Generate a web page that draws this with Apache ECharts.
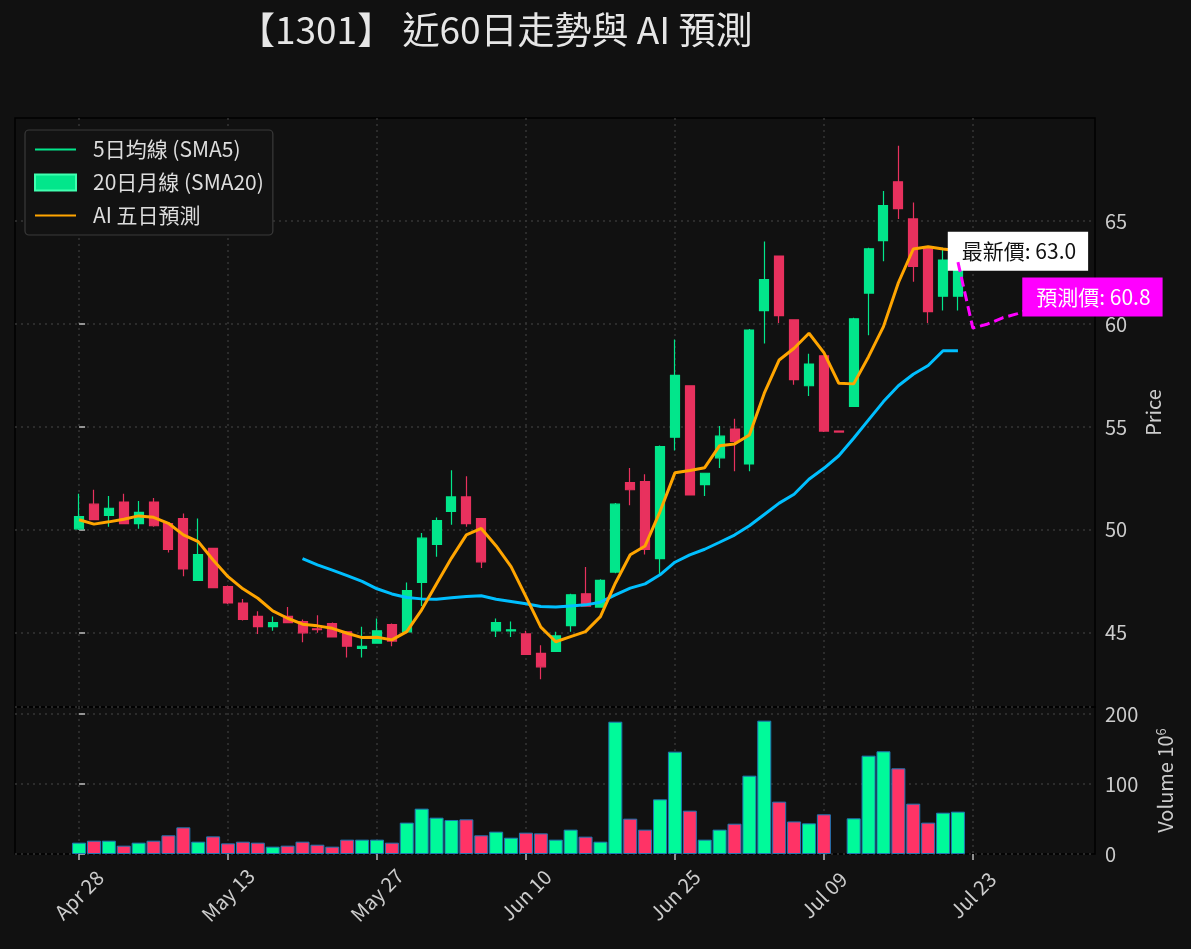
<!DOCTYPE html>
<html>
<head>
<meta charset="utf-8">
<title>【1301】 近60日走勢與 AI 預測</title>
<script src="https://cdn.jsdelivr.net/npm/echarts@6/dist/echarts.min.js"></script>
<style>
  html, body { margin: 0; padding: 0; background: #111111; }
  #main { width: 1191px; height: 949px; }
</style>
</head>
<body>
<div id="main"></div>
<script>
// x 軸刻度 (以交易日序號為座標)
var tickIdx = [0, 10, 20, 30, 40, 50, 60];
var tickLabels = ['Apr 28', 'May 13', 'May 27', 'Jun 10', 'Jun 25', 'Jul 09', 'Jul 23'];
var priceTicks = [45, 50, 55, 60, 65];

// K線 (60 個交易日)
var openP = [50.05, 51.25, 50.7, 51.35, 50.3, 51.35, 50.3, 50.55, 47.55, 49.1,
             47.25, 46.45, 45.8, 45.3, 45.8, 45.55, 45.2, 45.45, 45.05, 44.25,
             44.5, 45.4, 45.05, 47.45, 49.3, 50.9, 51.6, 50.55, 45.1, 45.1,
             44.95, 44.0, 44.1, 45.35, 46.9, 46.25, 47.95, 52.3, 52.35, 48.6,
             54.5, 57.0, 52.2, 53.5, 54.9, 53.2, 60.65, 63.3, 60.2, 57.0,
             58.45, 54.8, 56.0, 61.5, 64.05, 66.9, 65.1, 63.75, 61.35, 61.35];
var closeP = [50.65, 50.5, 51.05, 50.3, 50.85, 50.2, 49.05, 48.1, 48.8, 47.2,
              46.45, 45.65, 45.3, 45.5, 45.5, 45.0, 45.15, 44.8, 44.35, 44.35,
              45.1, 44.6, 47.05, 49.6, 50.45, 51.6, 50.3, 48.45, 45.5, 45.15,
              43.95, 43.35, 44.85, 46.85, 46.3, 47.55, 51.25, 51.95, 49.05, 54.05,
              57.5, 51.7, 52.75, 54.55, 54.3, 59.7, 62.15, 60.4, 57.3, 58.05,
              54.8, 54.75, 60.25, 63.65, 65.75, 65.6, 62.8, 60.6, 63.1, 63.0];
var lowP = [50.0, 50.5, 50.15, 50.3, 50.05, 50.15, 48.9, 47.75, 47.55, 47.2,
            46.4, 45.6, 44.95, 45.1, 45.5, 44.55, 45.0, 44.8, 43.8, 43.8,
            44.5, 44.35, 45.0, 46.3, 48.7, 50.25, 50.15, 48.15, 44.8, 44.8,
            43.95, 42.75, 44.1, 45.05, 46.3, 46.25, 47.9, 51.2, 48.8, 47.8,
            53.85, 51.7, 51.65, 53.0, 52.85, 52.85, 59.05, 60.05, 57.05, 56.5,
            54.75, 54.75, 56.0, 59.45, 63.05, 65.1, 62.05, 60.05, 60.65, 60.65];
var highP = [51.75, 51.95, 51.65, 51.75, 51.4, 51.55, 50.3, 50.8, 50.55, 49.1,
             47.3, 46.65, 46.05, 45.8, 46.25, 45.65, 45.85, 45.5, 45.05, 45.3,
             45.7, 45.45, 47.45, 49.85, 50.6, 52.9, 52.6, 50.55, 45.7, 45.55,
             45.1, 44.4, 45.05, 46.9, 48.2, 47.6, 51.3, 53.0, 52.7, 54.1,
             59.25, 57.0, 52.75, 55.05, 55.4, 59.75, 64.0, 63.3, 60.2, 58.55,
             58.45, 54.8, 60.3, 63.7, 66.45, 68.65, 65.9, 63.75, 63.7, 63.4];

// 成交量 (百萬股)
var volume = [16.2, 19, 19, 11.9, 16.2, 19, 26.7, 38.1, 17.6, 25.2,
              15.2, 17.6, 16.2, 10.5, 11.9, 17.6, 13.3, 10.5, 20.5, 20.5,
              20.5, 16.2, 44.8, 64.8, 51.9, 48.6, 49.5, 26.7, 31.9, 23.3,
              30.5, 29.5, 20.5, 34.8, 24.8, 17.6, 189, 50.5, 34.8, 78.1,
              146.2, 61.9, 20.5, 34.8, 43.3, 111.9, 190.5, 74.8, 46.5, 43.8,
              56.7, 0, 51, 140.5, 146.7, 122.4, 71.9, 44.8, 59, 60.5];

// 均線
var sma5 = [50.49, 50.28, 50.39, 50.52, 50.68, 50.61, 50.32, 49.76, 49.43, 48.54,
            47.73, 47.14, 46.68, 46.07, 45.71, 45.42, 45.34, 45.22, 44.98, 44.77,
            44.79, 44.66, 45.06, 46.12, 47.38, 48.63, 49.76, 50.07, 49.22, 48.22,
            46.76, 45.28, 44.57, 44.82, 45.06, 45.79, 47.41, 48.79, 49.22, 50.89,
            52.77, 52.88, 53.02, 54.09, 54.17, 54.61, 56.64, 58.25, 58.82, 59.55,
            58.61, 57.12, 57.09, 58.41, 59.87, 62.0, 63.64, 63.75, 63.64, 63.55];
var sma20Start = 15;
var sma20 = [48.6, 48.3, 48.05, 47.78, 47.5,
             47.14, 46.89, 46.72, 46.65, 46.63, 46.70, 46.76, 46.8, 46.63, 46.52,
             46.41, 46.28, 46.25, 46.31, 46.36, 46.49, 46.84, 47.17, 47.38, 47.82,
             48.43, 48.79, 49.06, 49.4, 49.75, 50.2, 50.75, 51.3, 51.73, 52.46,
             52.99, 53.6, 54.45, 55.34, 56.23, 57.0, 57.56, 57.98, 58.7, 58.7];

// AI 五日預測
var forecastIdx = [59, 60, 61, 62, 63, 64];
var forecastVal = [63.0, 59.8, 60.0, 60.3, 60.5, 60.8];

var UP = '#02e68b', DOWN = '#e8315e';
var VOL_UP = '#00fa9a', VOL_DOWN = '#ff3366';
var FONT = "'Noto Sans CJK TC', 'Noto Sans', sans-serif";

var candles = openP.map(function (o, i) {
    return [i, o, closeP[i], lowP[i], highP[i]];
});
var volData = [];
volume.forEach(function (v, i) {
    if (v > 0) {
        volData.push({
            value: [i, v],
            itemStyle: { color: closeP[i] >= openP[i] ? VOL_UP : VOL_DOWN }
        });
    }
});
var sma5Data = sma5.map(function (v, i) { return [i, v]; });
var sma20Data = sma20.map(function (v, i) { return [i + sma20Start, v]; });
var forecastData = forecastIdx.map(function (x, i) { return [x, forecastVal[i]]; });
var lastIdx = closeP.length - 1;

var gridLine = { show: true, lineStyle: { color: '#363636', width: 1.5, type: [2, 4] } };
var tickStyle = { color: '#bbbbbb', width: 1.5 };

var myChart = echarts.init(document.getElementById('main'));

var option = {
    backgroundColor: '#111111',
    animation: false,
    textStyle: { fontFamily: FONT },
    title: {
        text: '【1301】 近60日走勢與 AI 預測',
        left: 233,
        top: 6,
        textStyle: { color: '#e6e6e6', fontSize: 37, fontWeight: 'normal', fontFamily: FONT }
    },
    legend: {
        data: [
            { name: '5日均線 (SMA5)', itemStyle: { opacity: 0 } },
            { name: '20日月線 (SMA20)', icon: 'rect' },
            { name: 'AI 五日預測', itemStyle: { opacity: 0 } }
        ],
        orient: 'vertical',
        left: 25,
        top: 130,
        itemWidth: 41,
        itemHeight: 16,
        itemGap: 12,
        padding: [9, 9, 9, 9],
        backgroundColor: '#121212',
        borderColor: '#3a3a3a',
        borderWidth: 1.2,
        borderRadius: 4,
        textStyle: { color: '#dddddd', fontSize: 21, lineHeight: 21, padding: [0, 0, 0, 12], fontFamily: FONT }
    },
    grid: [
        { left: 15, top: 118, width: 1080, height: 589, show: true, borderColor: '#000', borderWidth: 1.5, backgroundColor: 'transparent' },
        { left: 15, top: 707, width: 1080, height: 147, show: true, borderColor: '#000', borderWidth: 1.5, backgroundColor: 'transparent' }
    ],
    xAxis: [
        {
            type: 'value', gridIndex: 0, min: -4.3, max: 68.2,
            axisLine: { show: false },
            axisTick: { show: false, customValues: tickIdx },
            axisLabel: { show: false, customValues: tickIdx },
            splitLine: gridLine
        },
        {
            type: 'value', gridIndex: 1, min: -4.3, max: 68.2,
            axisLine: { show: false },
            axisTick: { show: true, customValues: tickIdx, length: 6, lineStyle: tickStyle },
            axisLabel: {
                customValues: tickIdx,
                formatter: function (v) { return tickLabels[tickIdx.indexOf(v)]; },
                rotate: 45, align: 'center', verticalAlign: 'middle',
                color: '#cccccc', fontSize: 20, margin: 41
            },
            splitLine: gridLine
        }
    ],
    yAxis: [
        {
            type: 'value', gridIndex: 0, position: 'right', min: 41.4, max: 70,
            axisLine: { show: false },
            axisTick: { show: true, customValues: priceTicks, length: 6, lineStyle: tickStyle },
            axisLabel: { customValues: priceTicks, color: '#cccccc', fontSize: 20, margin: 10 },
            splitLine: gridLine,
            name: 'Price', nameLocation: 'middle', nameRotate: 90, nameGap: 48,
            nameTextStyle: { color: '#cccccc', fontSize: 20 }
        },
        {
            type: 'value', gridIndex: 1, position: 'right', min: 0, max: 210, interval: 100,
            axisLine: { show: false },
            axisTick: { show: true, length: 6, lineStyle: tickStyle },
            axisLabel: { color: '#cccccc', fontSize: 20, margin: 10 },
            splitLine: gridLine,
            name: 'Volume 10{s|6}', nameLocation: 'middle', nameRotate: 90, nameGap: 60,
            nameTextStyle: {
                color: '#cccccc', fontSize: 20,
                rich: { s: { fontSize: 13, color: '#cccccc', verticalAlign: 'top', padding: [0, 0, 8, 0] } }
            }
        }
    ],
    series: [
        {
            name: 'K線', type: 'candlestick', xAxisIndex: 0, yAxisIndex: 0,
            data: candles,
            encode: { x: 0, y: [1, 2, 3, 4] },
            barWidth: 9.5,
            itemStyle: { color: UP, color0: DOWN, borderColor: UP, borderColor0: DOWN, borderWidth: 1.2 },
            z: 2
        },
        {
            name: '20日線', type: 'line', xAxisIndex: 0, yAxisIndex: 0,
            data: sma20Data, symbol: 'none',
            lineStyle: { color: '#00bfff', width: 3 },
            z: 3
        },
        {
            name: 'AI 五日預測', type: 'line', xAxisIndex: 0, yAxisIndex: 0,
            data: sma5Data, symbol: 'none',
            lineStyle: { color: '#ffa500', width: 3 },
            itemStyle: { color: '#ffa500' },
            z: 4
        },
        {
            name: '預測', type: 'line', xAxisIndex: 0, yAxisIndex: 0,
            data: forecastData, symbol: 'none',
            lineStyle: { color: '#ff00ff', width: 3, type: [10, 5] },
            z: 5,
            markPoint: {
                symbol: 'rect', symbolSize: 1,
                itemStyle: { color: 'rgba(0,0,0,0)' },
                label: { show: true, position: 'inside', fontSize: 21, fontFamily: FONT, lineHeight: 22, padding: [9, 12, 8, 14] },
                data: [
                    {
                        coord: [lastIdx, closeP[lastIdx]],
                        label: {
                            offset: [60, -11], color: '#111', backgroundColor: '#ffffff',
                            formatter: '最新價: ' + closeP[lastIdx].toFixed(1)
                        }
                    },
                    {
                        coord: [forecastIdx[forecastIdx.length - 1], forecastVal[forecastVal.length - 1]],
                        label: {
                            offset: [60, -10.5], color: '#ffffff', backgroundColor: '#ff00ff',
                            formatter: '預測價: ' + forecastVal[forecastVal.length - 1].toFixed(1)
                        }
                    }
                ]
            }
        },
        {
            name: '成交量', type: 'bar', xAxisIndex: 1, yAxisIndex: 1,
            data: volData, barWidth: 14,
            itemStyle: { borderColor: '#1f77b4', borderWidth: 1 }
        },
        // 圖例用
        {
            name: '5日均線 (SMA5)', type: 'line', xAxisIndex: 0, yAxisIndex: 0,
            data: [], symbol: 'none',
            lineStyle: { color: UP, width: 1.5 }, itemStyle: { color: UP }
        },
        {
            name: '20日月線 (SMA20)', type: 'bar', xAxisIndex: 0, yAxisIndex: 0,
            data: [],
            itemStyle: { color: UP, borderColor: '#40ffb0', borderWidth: 1 }
        }
    ]
};
myChart.setOption(option);
</script>
</body>
</html>
